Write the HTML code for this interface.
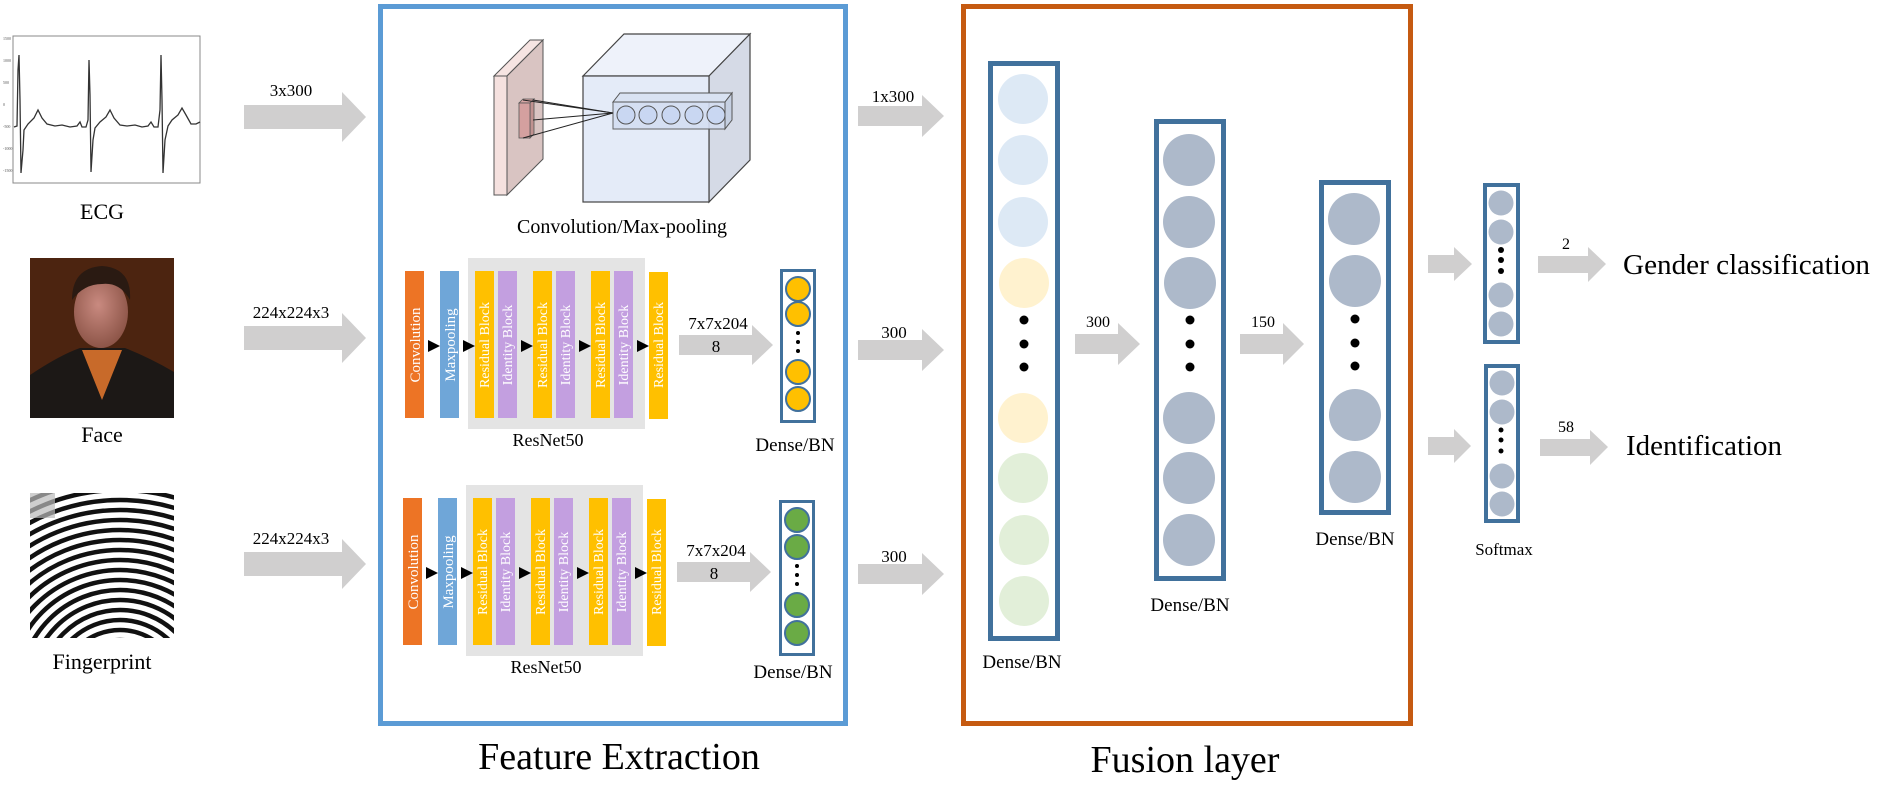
<!DOCTYPE html>
<html><head><meta charset="utf-8"><style>html,body{margin:0;padding:0;background:#fff;width:1888px;height:803px;overflow:hidden}svg{display:block}</style></head>
<body>
<svg width="1888" height="803" viewBox="0 0 1888 803" xmlns="http://www.w3.org/2000/svg" font-family="Liberation Serif, serif">
<defs>
<clipPath id="fp"><rect x="30" y="493" width="144" height="145"/></clipPath>
<clipPath id="fc"><rect x="30" y="258" width="144" height="160"/></clipPath>
<radialGradient id="skin" cx="0.45" cy="0.4" r="0.6"><stop offset="0" stop-color="#c98a80"/><stop offset="1" stop-color="#8d5548"/></radialGradient>
<g id="resrow">
<rect x="468" y="258" width="177" height="171" fill="#e4e4e4"/>
<rect x="405" y="271" width="19" height="147" fill="#ed7425"/>
<rect x="440" y="271" width="19" height="147" fill="#6fa6d8"/>
<rect x="475" y="271" width="19" height="147" fill="#ffc000"/>
<rect x="498" y="271" width="19" height="147" fill="#c39fe0"/>
<rect x="533" y="271" width="19" height="147" fill="#ffc000"/>
<rect x="556" y="271" width="19" height="147" fill="#c39fe0"/>
<rect x="591" y="271" width="19" height="147" fill="#ffc000"/>
<rect x="614" y="271" width="19" height="147" fill="#c39fe0"/>
<rect x="649" y="272" width="19" height="147" fill="#ffc000"/>
<g fill="#000">
<polygon points="428,340 440,346 428,352"/><polygon points="463,340 475,346 463,352"/>
<polygon points="521,340 533,346 521,352"/><polygon points="579,340 591,346 579,352"/>
<polygon points="637,340 649,346 637,352"/></g>
<g fill="#fff" font-size="15" text-anchor="middle">
<text transform="translate(420,345) rotate(-90)">Convolution</text>
<text transform="translate(455,345) rotate(-90)">Maxpooling</text>
<text transform="translate(489,345) rotate(-90)" font-size="14">Residual Block</text>
<text transform="translate(512,345) rotate(-90)" font-size="14">Identity Block</text>
<text transform="translate(547,345) rotate(-90)" font-size="14">Residual Block</text>
<text transform="translate(570,345) rotate(-90)" font-size="14">Identity Block</text>
<text transform="translate(605,345) rotate(-90)" font-size="14">Residual Block</text>
<text transform="translate(628,345) rotate(-90)" font-size="14">Identity Block</text>
<text transform="translate(663,345) rotate(-90)" font-size="14">Residual Block</text>
</g>
<polygon points="679,335 752,335 752,325 773,345 752,365 752,355 679,355" fill="#d0cfcf"/>
<text x="718" y="329" font-size="17" text-anchor="middle">7x7x204</text>
<text x="716" y="352" font-size="17" text-anchor="middle">8</text>
<text x="548" y="446" font-size="18" text-anchor="middle">ResNet50</text>
<text x="795" y="451" font-size="19" text-anchor="middle">Dense/BN</text>
</g>
</defs>

<!-- ECG -->
<rect x="13" y="36" width="187" height="147" fill="#fff" stroke="#888" stroke-width="1"/>
<polyline fill="none" stroke="#333" stroke-width="1.3" points="14,127 17,126 18,70 19,55 20,100 21,173 23,150 24,130 28,124 34,118 38,110 42,118 47,124 55,126 62,125 70,127 77,126 80,122 82,127 86,127 88,120 89,60 90,95 91,172 93,140 95,128 100,122 106,117 110,110 114,118 120,125 127,126 135,125 142,127 148,126 151,122 154,127 158,127 160,110 161,55 162,100 163,173 165,140 168,126 172,120 178,115 182,108 186,115 191,124 196,124 200,122"/>
<g font-size="4" fill="#555"><text x="3" y="40">1500</text><text x="3" y="62">1000</text><text x="3" y="84">500</text><text x="3" y="106">0</text><text x="3" y="128">-500</text><text x="3" y="150">-1000</text><text x="3" y="172">-1500</text></g>
<text x="102" y="219" font-size="22" text-anchor="middle">ECG</text>

<!-- Face -->
<g clip-path="url(#fc)">
<rect x="30" y="258" width="144" height="160" fill="#3e1d0e"/>
<rect x="30" y="258" width="144" height="160" fill="#5a2b12" opacity="0.5"/>
<path d="M30,418 L30,375 Q60,355 80,348 L125,348 Q150,358 174,372 L174,418 Z" fill="#1c1816"/>
<path d="M82,350 L102,400 L122,350 Z" fill="#c86a2a"/>
<ellipse cx="101" cy="312" rx="27" ry="36" fill="url(#skin)"/>
<path d="M72,300 Q72,268 102,266 Q132,268 130,300 Q120,282 102,284 Q84,284 72,300 Z" fill="#2a1a12"/>
</g>
<text x="102" y="442" font-size="22" text-anchor="middle">Face</text>

<!-- Fingerprint -->
<g clip-path="url(#fp)">
<rect x="30" y="493" width="144" height="145" fill="#fff"/>
<g fill="none" stroke="#111" stroke-width="4.5">
<circle cx="120" cy="690" r="20"/><circle cx="120" cy="690" r="30"/><circle cx="120" cy="690" r="40"/><circle cx="120" cy="690" r="50"/><circle cx="120" cy="690" r="60"/><circle cx="120" cy="690" r="70"/><circle cx="120" cy="690" r="80"/><circle cx="120" cy="690" r="90"/><circle cx="120" cy="690" r="100"/><circle cx="120" cy="690" r="110"/><circle cx="120" cy="690" r="120"/><circle cx="120" cy="690" r="130"/><circle cx="120" cy="690" r="140"/><circle cx="120" cy="690" r="150"/><circle cx="120" cy="690" r="160"/><circle cx="120" cy="690" r="170"/><circle cx="120" cy="690" r="180"/><circle cx="120" cy="690" r="190"/><circle cx="120" cy="690" r="200"/><circle cx="120" cy="690" r="210"/>
</g>
<rect x="30" y="493" width="25" height="25" fill="#bbb" opacity="0.7"/>
</g>
<text x="102" y="669" font-size="22" text-anchor="middle">Fingerprint</text>

<!-- Left arrows -->
<g fill="#d0cfcf">
<polygon points="244,105 342,105 342,92 366,117 342,142 342,129 244,129"/>
<polygon points="244,326 342,326 342,313 366,338 342,363 342,350 244,350"/>
<polygon points="244,552 342,552 342,539 366,564 342,589 342,576 244,576"/>
</g>
<g font-size="17" text-anchor="middle"><text x="291" y="96">3x300</text><text x="291" y="318">224x224x3</text><text x="291" y="544">224x224x3</text></g>

<!-- Feature Extraction box -->
<rect x="380.5" y="6.5" width="465" height="717" fill="none" stroke="#5b9bd5" stroke-width="5"/>

<!-- conv 3D -->
<polygon points="494,76 530,40 543,40 507,76" fill="#f6e4e2" stroke="#555" stroke-width="1"/>
<polygon points="507,76 543,40 543,159 507,195" fill="#d9c4c2" stroke="#555" stroke-width="1"/>
<rect x="494" y="76" width="13" height="119" fill="#f5e1df" stroke="#555" stroke-width="1"/>
<polygon points="519,103 523,99 534,99 530,103" fill="#d8a6a4" stroke="#555" stroke-width="0.8"/>
<polygon points="530,103 534,99 534,134 530,138" fill="#c09290" stroke="#555" stroke-width="0.8"/>
<rect x="519" y="103" width="11" height="35" fill="#d4a09f" stroke="#555" stroke-width="0.8"/>
<polygon points="583,76 624,34 750,34 709,76" fill="#eef2fa" stroke="#444" stroke-width="1.2"/>
<polygon points="709,76 750,34 750,160 709,202" fill="#d5dae6" stroke="#444" stroke-width="1.2"/>
<rect x="583" y="76" width="126" height="126" fill="#e4ebf8" stroke="#444" stroke-width="1.2"/>
<polygon points="613,102 620,93 732,93 725,102" fill="#d9e2f2" stroke="#555" stroke-width="1"/>
<polygon points="725,102 732,93 732,120 725,129" fill="#c6d0e2" stroke="#555" stroke-width="1"/>
<rect x="613" y="102" width="112" height="27" fill="#d4def2" stroke="#555" stroke-width="1" opacity="0.9"/>
<g fill="#c9d7f2" stroke="#555" stroke-width="1"><circle cx="626" cy="115" r="9"/><circle cx="648" cy="115" r="9"/><circle cx="671" cy="115" r="9"/><circle cx="694" cy="115" r="9"/><circle cx="716" cy="115" r="9"/></g>
<g stroke="#222" stroke-width="1"><line x1="533" y1="100" x2="613" y2="113"/><line x1="523" y1="100" x2="613" y2="113"/><line x1="533" y1="120" x2="613" y2="113"/><line x1="523" y1="138" x2="613" y2="113"/></g>
<text x="622" y="233" font-size="20" text-anchor="middle">Convolution/Max-pooling</text>

<!-- ResNet rows -->
<use href="#resrow"/>
<use href="#resrow" transform="translate(-2,227)"/>
<!-- dense row1 -->
<rect x="781.5" y="270.5" width="33" height="151" fill="#fff" stroke="#41719c" stroke-width="3"/>
<g fill="#ffc000" stroke="#41719c" stroke-width="2"><circle cx="798" cy="289" r="12"/><circle cx="798" cy="314" r="12"/><circle cx="798" cy="372" r="12"/><circle cx="798" cy="399" r="12"/></g>
<g fill="#000"><circle cx="798" cy="333" r="2"/><circle cx="798" cy="342" r="2"/><circle cx="798" cy="351" r="2"/></g>
<!-- dense row2 -->
<rect x="780.5" y="501.5" width="33" height="153" fill="#fff" stroke="#41719c" stroke-width="3"/>
<g fill="#6aab45" stroke="#41719c" stroke-width="2"><circle cx="797" cy="520" r="12"/><circle cx="797" cy="547" r="12"/><circle cx="797" cy="605" r="12"/><circle cx="797" cy="633" r="12"/></g>
<g fill="#000"><circle cx="797" cy="566" r="2"/><circle cx="797" cy="575" r="2"/><circle cx="797" cy="584" r="2"/></g>

<text x="619" y="769" font-size="38" text-anchor="middle">Feature Extraction</text>

<!-- middle arrows -->
<g fill="#d0cfcf">
<polygon points="858,106 922,106 922,95 944,116 922,137 922,126 858,126"/>
<polygon points="858,340 922,340 922,329 944,350 922,371 922,360 858,360"/>
<polygon points="858,564 922,564 922,553 944,574 922,595 922,584 858,584"/>
</g>
<g font-size="17" text-anchor="middle"><text x="893" y="102">1x300</text><text x="894" y="338">300</text><text x="894" y="562">300</text></g>

<!-- Fusion box -->
<rect x="963.5" y="6.5" width="447" height="717" fill="none" stroke="#c55a11" stroke-width="5"/>

<!-- col1 -->
<rect x="990.5" y="63.5" width="67" height="575" fill="#fff" stroke="#41719c" stroke-width="5"/>
<g><circle cx="1023" cy="99" r="25" fill="#dde9f5"/><circle cx="1023" cy="160" r="25" fill="#dde9f5"/><circle cx="1023" cy="222" r="25" fill="#dde9f5"/><circle cx="1024" cy="283" r="25" fill="#fff2cf"/><circle cx="1023" cy="418" r="25" fill="#fff2cf"/><circle cx="1023" cy="478" r="25" fill="#e2efd9"/><circle cx="1024" cy="540" r="25" fill="#e2efd9"/><circle cx="1024" cy="601" r="25" fill="#e2efd9"/></g>
<g fill="#000"><circle cx="1024" cy="320" r="4.5"/><circle cx="1024" cy="344" r="4.5"/><circle cx="1024" cy="367" r="4.5"/></g>
<text x="1022" y="668" font-size="19" text-anchor="middle">Dense/BN</text>

<!-- arrows fusion -->
<g fill="#d0cfcf">
<polygon points="1075,334 1118,334 1118,323 1140,344 1118,365 1118,354 1075,354"/>
<polygon points="1240,334 1283,334 1283,323 1304,344 1283,365 1283,354 1240,354"/>
</g>
<g font-size="16" text-anchor="middle"><text x="1098" y="327">300</text><text x="1263" y="327">150</text></g>

<!-- col2 -->
<rect x="1156.5" y="121.5" width="67" height="457" fill="#fff" stroke="#41719c" stroke-width="5"/>
<g fill="#adb9ca"><circle cx="1189" cy="160" r="26"/><circle cx="1189" cy="222" r="26"/><circle cx="1190" cy="283" r="26"/><circle cx="1189" cy="418" r="26"/><circle cx="1189" cy="478" r="26"/><circle cx="1189" cy="540" r="26"/></g>
<g fill="#000"><circle cx="1190" cy="320" r="4.5"/><circle cx="1190" cy="344" r="4.5"/><circle cx="1190" cy="367" r="4.5"/></g>
<text x="1190" y="611" font-size="19" text-anchor="middle">Dense/BN</text>

<!-- col3 -->
<rect x="1321.5" y="182.5" width="67" height="330" fill="#fff" stroke="#41719c" stroke-width="5"/>
<g fill="#adb9ca"><circle cx="1354" cy="219" r="26"/><circle cx="1355" cy="281" r="26"/><circle cx="1355" cy="415" r="26"/><circle cx="1355" cy="477" r="26"/></g>
<g fill="#000"><circle cx="1355" cy="319" r="4.5"/><circle cx="1355" cy="343" r="4.5"/><circle cx="1355" cy="366" r="4.5"/></g>
<text x="1355" y="545" font-size="19" text-anchor="middle">Dense/BN</text>

<text x="1185" y="772" font-size="38" text-anchor="middle">Fusion layer</text>

<!-- softmax -->
<rect x="1485" y="185" width="33" height="157" fill="#fff" stroke="#41719c" stroke-width="4"/>
<g fill="#adb9ca"><circle cx="1501" cy="203" r="12.5"/><circle cx="1501" cy="232" r="12.5"/><circle cx="1501" cy="295" r="12.5"/><circle cx="1501" cy="324" r="12.5"/></g>
<g fill="#000"><circle cx="1501" cy="250" r="3"/><circle cx="1501" cy="260" r="3"/><circle cx="1501" cy="271" r="3"/></g>
<rect x="1486" y="366" width="32" height="155" fill="#fff" stroke="#41719c" stroke-width="4"/>
<g fill="#adb9ca"><circle cx="1502" cy="383" r="12.5"/><circle cx="1502" cy="412" r="12.5"/><circle cx="1502" cy="476" r="12.5"/><circle cx="1502" cy="504" r="12.5"/></g>
<g fill="#000"><circle cx="1501" cy="430" r="2.5"/><circle cx="1501" cy="440" r="2.5"/><circle cx="1501" cy="451" r="2.5"/></g>
<text x="1504" y="555" font-size="17" text-anchor="middle">Softmax</text>

<g fill="#d0cfcf">
<polygon points="1428,255 1454,255 1454,247 1472,264 1454,281 1454,273 1428,273"/>
<polygon points="1428,437 1454,437 1454,429 1471,446 1454,463 1454,455 1428,455"/>
<polygon points="1538,256 1588,256 1588,247 1606,264 1588,282 1588,273 1538,273"/>
<polygon points="1540,439 1590,439 1590,430 1608,447 1590,465 1590,456 1540,456"/>
</g>
<g font-size="16" text-anchor="middle"><text x="1566" y="249">2</text><text x="1566" y="432">58</text></g>
<text x="1623" y="274" font-size="28" textLength="247" lengthAdjust="spacingAndGlyphs">Gender classification</text>
<text x="1626" y="455" font-size="28" textLength="156" lengthAdjust="spacingAndGlyphs">Identification</text>
</svg>
</body></html>
